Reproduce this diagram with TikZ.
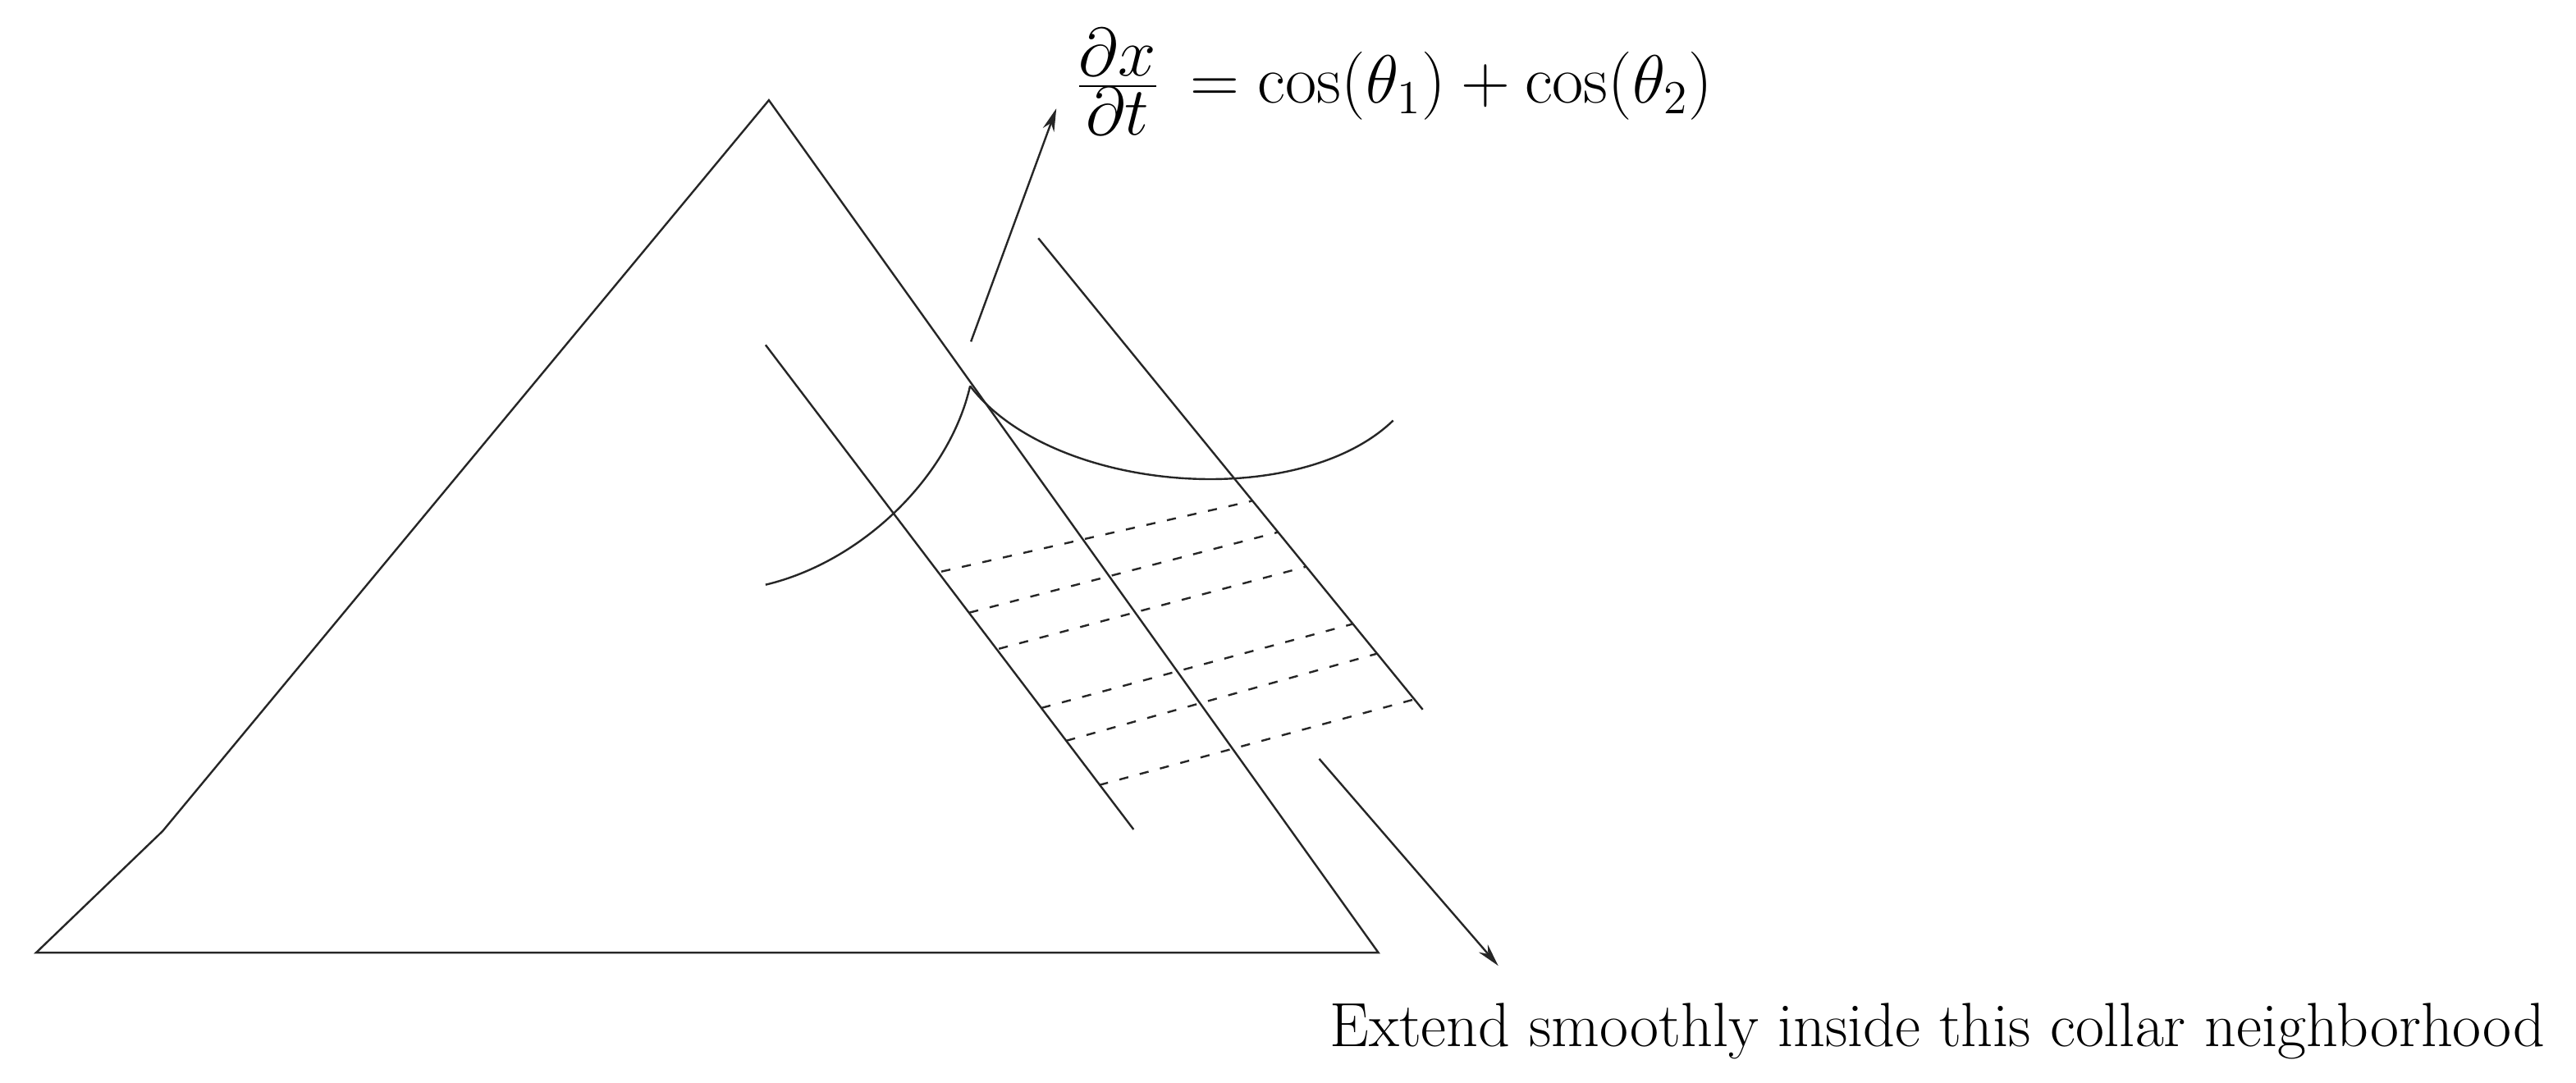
\documentclass[tikz,border=0pt]{standalone}
\usetikzlibrary{arrows.meta}
\begin{document}
\begin{tikzpicture}[x=0.5pt,y=-0.5pt,
  edge/.style={line width=0.6pt, black!85},
  dashline/.style={line width=0.6pt, black!85, dash pattern=on 2.8pt off 3.6pt},
  arr/.style={line width=0.6pt, black!85, -{Stealth[length=7pt,width=3.6pt]}},
  lbl/.style={inner sep=0pt, font=\fontsize{19}{22}\selectfont},
  eqn/.style={inner sep=0pt, font=\fontsize{21}{25}\selectfont}]
\useasboundingbox (0,0) rectangle (1568,659);
% triangle
\coordinate (A) at (468,61);
\coordinate (K) at (99,506);
\coordinate (BL) at (22,580);
\coordinate (BR) at (839,580);
\draw[edge] (BL) -- (K) -- (A) -- (BR) -- cycle;
% collar lines
\coordinate (L1a) at (466,210);
\coordinate (L1b) at (690,505);
\coordinate (L2a) at (632,145);
\coordinate (L2b) at (866,432);
\draw[edge] (L1a) -- (L1b);
\draw[edge] (L2a) -- (L2b);
% curves
\coordinate (P) at (590.5,235);
\coordinate (C1s) at (466,356);
\coordinate (C2e) at (848,256);
\draw[edge] (C1s) .. controls (525,342) and (578,290) .. (P);
\draw[edge] (P) .. controls (640,300) and (790,312) .. (C2e);
% arrow up
\coordinate (Ut) at (591,208);
\coordinate (Uh) at (643,66);
\draw[arr] (Ut) -- (Uh);
% dashed lines
\draw[dashline] (573,348) -- (762,305);
\draw[dashline] (590,373) -- (778,324);
\draw[dashline] (608,395) -- (795,345);
\draw[dashline] (634,431) -- (823,380);
\draw[dashline] (649,451) -- (838,398);
\draw[dashline] (669,478) -- (860,426);
% arrow down
\coordinate (Dt) at (803,462);
\coordinate (Dh) at (912,588);
\draw[arr] (Dt) -- (Dh);
% labels
\node[eqn, anchor=west] (eq) at (654,50) {$\frac{\textstyle\partial x}{\textstyle\partial t}\,=\cos(\theta_1)+\cos(\theta_2)$};
\node[lbl, anchor=base west] (ext) at (809,637) {Extend smoothly inside this collar neighborhood};
\end{tikzpicture}
\end{document}
